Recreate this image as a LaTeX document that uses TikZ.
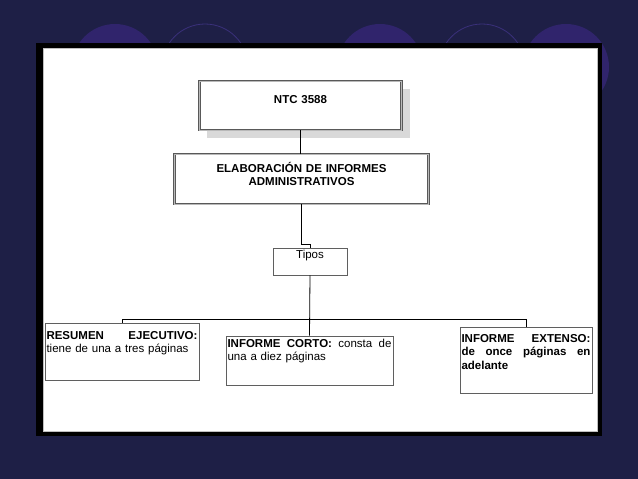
\documentclass[tikz,border=0pt]{standalone}
\usepackage{fontspec}
\setmainfont{Liberation Sans}
\definecolor{navy}{RGB}{30,31,70}
\definecolor{violeta}{RGB}{48,36,108}
\definecolor{violetaclaro}{RGB}{58,48,122}
\definecolor{borde}{RGB}{95,95,95}
\pgfdeclarelayer{background}
\pgfsetlayers{background,main}

\begin{document}
\begin{tikzpicture}[
    x=1pt, y=-1pt,
    caja/.style ={
        draw=borde,
        line width=0.8pt,
        fill=white,
        inner xsep=1.5pt,
        inner ysep=0pt,
        font=\fontsize{11.5}{13.5}\selectfont
    },
    titulo/.style ={
        caja,
        draw=gray!70!black,
        double=gray!55,
        double distance=0.6pt,
        align=center,
        font=\bfseries\fontsize{11.5}{13.5}\selectfont
    },
    conector/.style ={
        draw=black,
        line width=0.8pt
    }
    ]
    % fondo y marco
    \begin{pgfonlayer}{background}
    \fill[navy] (0,0) rectangle (638,479);
    \foreach \cx in {115,380,566}
        \fill[violeta] (\cx,67) circle (43);
    \foreach \cx in {205,482}
        \draw[violetaclaro, line width=0.8pt] (\cx,67) circle (43);
    \fill[black] (36,43) rectangle (602,436);
    \fill[white] (43,48) rectangle (597,431);
    \draw[gray!50] (43,48) rectangle (597,431);
    \end{pgfonlayer}

    \node[titulo, text width=199pt, text height=22pt, text depth=27pt]
        (ntc) at (300.5,105.5) {NTC 3588};
    \node[titulo, text width=251pt, text height=18pt, text depth=32pt]
        (elab) at (301.5,179) {ELABORACIÓN DE INFORMES\\ ADMINISTRATIVOS};
    \node[caja, align=center, text width=71pt, text height=10pt, text depth=17pt]
        (tipos) at (310,261.5) {Tipos};

    \node[caja, align=left, text width=151pt, text height=16pt, text depth=41pt]
        (resumen) at (122,351.5) {\textbf{RESUMEN\hfill EJECUTIVO:}\\ tiene de una a tres páginas};
    \node[caja, align=left, text width=164pt, text height=11pt, text depth=38pt]
        (corto) at (309.5,360.5) {\textbf{INFORME\hfill CORTO:}\hfill consta\hfill de\\ una a diez páginas};
    \node[caja, align=left, text width=129pt, text height=15pt, text depth=51pt]
        (extenso) at (526,360) {\bfseries INFORME\hfill EXTENSO:\\ de\hfill once\hfill páginas\hfill en\\ adelante};

    % sombra de la caja superior
    \begin{pgfonlayer}{background}
    \fill[gray!30] ([shift={(8,8)}]ntc.south west) rectangle ([shift={(8,8)}]ntc.north east);
    \end{pgfonlayer}

    \draw[conector] (ntc.south) -- (ntc.south |- elab.north);
    \draw[conector] (elab.south) -- ++(0,40) -| (tipos.north);
    \draw[conector] (tipos.south) -- (corto.north);
    \draw[conector] (resumen.north) -- ++(0,-3) -| (extenso.north);
\end{tikzpicture}
\end{document}
